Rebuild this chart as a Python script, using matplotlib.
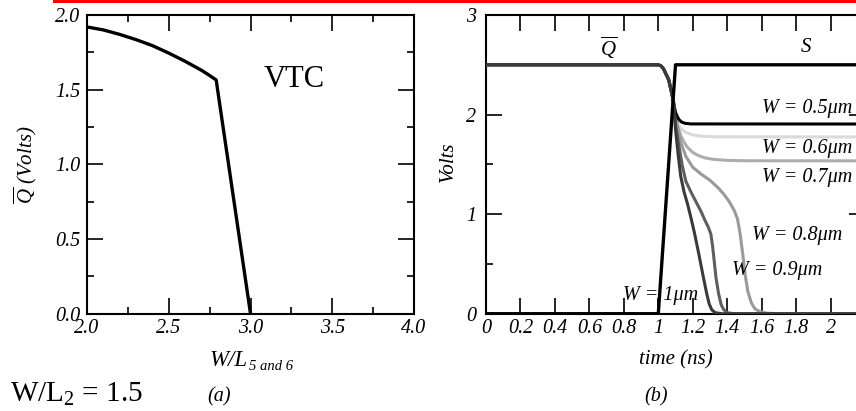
import matplotlib
matplotlib.use("Agg")
import matplotlib.pyplot as plt
from matplotlib.patches import Rectangle
from matplotlib.ticker import MultipleLocator, FixedLocator, FuncFormatter

plt.rcParams["font.family"] = ["Liberation Serif", "DejaVu Serif"]
plt.rcParams["font.style"] = "italic"
plt.rcParams["mathtext.fontset"] = "custom"
plt.rcParams["mathtext.rm"] = "Liberation Serif:style=normal"
plt.rcParams["mathtext.it"] = "Liberation Serif:style=italic"
plt.rcParams["mathtext.bf"] = "Liberation Serif:style=normal:weight=bold"

# (a) VTC: Q-bar versus W/L of transistors 5 and 6
vtc_wl = [2.0, 2.1, 2.2, 2.3, 2.4, 2.5, 2.6, 2.7, 2.75, 2.79, 3.0]
vtc_q = [1.92, 1.9, 1.87, 1.835, 1.795, 1.745, 1.69, 1.63, 1.595, 1.565, 0.0]

# (b) transient: S input and Q-bar output for several widths
t_s = [0.0, 1.0, 1.1, 2.2]
v_s = [0.0, 0.0, 2.5, 2.5]

t_w05 = [0.0, 1.0, 1.015, 1.03, 1.06, 1.08, 1.09, 1.1, 1.11, 1.12, 1.135, 1.155, 1.19, 2.2]
v_w05 = [2.5, 2.5, 2.49, 2.46, 2.35, 2.2, 2.1, 2.02, 1.98, 1.95, 1.925, 1.912, 1.906, 1.905]

t_w06 = [0.0, 1.0, 1.015, 1.03, 1.06, 1.08, 1.09, 1.1, 1.11, 1.13, 1.16, 1.2, 1.25, 1.32, 2.2]
v_w06 = [2.5, 2.5, 2.49, 2.46, 2.35, 2.2, 2.1, 2.0, 1.93, 1.86, 1.82, 1.796, 1.783, 1.777, 1.775]

t_w07 = [0.0, 1.0, 1.015, 1.03, 1.06, 1.08, 1.09, 1.1, 1.11, 1.13, 1.15, 1.17, 1.2,
         1.23, 1.27, 1.32, 1.4, 1.5, 2.2]
v_w07 = [2.5, 2.5, 2.49, 2.46, 2.35, 2.2, 2.1, 1.98, 1.9, 1.79, 1.72, 1.67, 1.62,
         1.59, 1.565, 1.55, 1.54, 1.536, 1.535]

t_w08 = [0.0, 1.0, 1.015, 1.03, 1.06, 1.08, 1.09, 1.1, 1.11, 1.13, 1.16, 1.2, 1.25,
         1.3, 1.35, 1.38, 1.41, 1.44, 1.46, 1.475, 1.49, 1.505, 1.52, 1.54, 1.56,
         1.59, 1.63, 1.7, 2.2]
v_w08 = [2.5, 2.5, 2.49, 2.46, 2.36, 2.22, 2.12, 2.0, 1.88, 1.72, 1.58, 1.47, 1.4,
         1.34, 1.26, 1.2, 1.13, 1.04, 0.95, 0.8, 0.6, 0.38, 0.22, 0.11, 0.05,
         0.02, 0.005, 0.0, 0.0]

t_w09 = [0.0, 1.0, 1.015, 1.03, 1.06, 1.08, 1.09, 1.1, 1.12, 1.14, 1.16, 1.19, 1.22,
         1.25, 1.27, 1.29, 1.305, 1.315, 1.325, 1.335, 1.35, 1.365, 1.38, 1.4,
         1.44, 2.2]
v_w09 = [2.5, 2.5, 2.49, 2.46, 2.35, 2.2, 2.1, 1.9, 1.68, 1.48, 1.33, 1.22, 1.12,
         1.02, 0.94, 0.87, 0.8, 0.68, 0.52, 0.36, 0.2, 0.09, 0.04, 0.01,
         0.0, 0.0]

t_w10 = [0.0, 1.0, 1.015, 1.03, 1.06, 1.08, 1.09, 1.1, 1.115, 1.13, 1.15, 1.17, 1.19,
         1.21, 1.235, 1.26, 1.28, 1.295, 1.31, 1.33, 1.37, 2.2]
v_w10 = [2.5, 2.5, 2.49, 2.46, 2.35, 2.2, 2.1, 1.85, 1.6, 1.38, 1.22, 1.1, 0.96,
         0.81, 0.6, 0.38, 0.21, 0.1, 0.04, 0.01, 0.0, 0.0]

width_labels = ["W = 0.5\u03bcm", "W = 0.6\u03bcm", "W = 0.7\u03bcm",
                "W = 0.8\u03bcm", "W = 0.9\u03bcm", "W = 1\u03bcm"]
label_t = [1.602, 1.602, 1.602, 1.545, 1.428, 0.795]
label_v = [2.064, 1.66, 1.37, 0.785, 0.43, 0.18]

FS = 14.5
FW, FH = 856, 411

fig = plt.figure(figsize=(8.56, 4.11), dpi=100)
fig.patch.set_facecolor("white")

# red rule across the top
fig.add_artist(Rectangle((53 / FW, 1 - 3 / FH), (FW - 53) / FW, 3 / FH,
                         transform=fig.transFigure, color="#ff0000", lw=0))


def style_axes(ax):
    for s in ax.spines.values():
        s.set_linewidth(1.5)
    ax.tick_params(which="both", direction="in", top=True, right=True,
                   labelsize=FS, width=1.2)
    ax.tick_params(which="major", length=11.5)
    ax.tick_params(which="minor", length=5)


# ---------- (a) ----------
ax1 = fig.add_axes([87 / FW, 1 - 313.7 / FH, (414 - 87) / FW, (313.7 - 15) / FH])
ax1.plot(vtc_wl, vtc_q, color="black", lw=2.4, zorder=3)
ax1.set_xlim(2.0, 4.0)
ax1.set_ylim(0.0, 2.0)
ax1.xaxis.set_major_locator(MultipleLocator(0.5))
ax1.xaxis.set_minor_locator(MultipleLocator(0.25))
ax1.yaxis.set_major_locator(MultipleLocator(0.5))
ax1.yaxis.set_minor_locator(MultipleLocator(0.25))
ax1.xaxis.set_major_formatter(FuncFormatter(lambda v, p: f"{v:.1f}"))
ax1.yaxis.set_major_formatter(FuncFormatter(lambda v, p: f"{v:.1f}"))
style_axes(ax1)
ax1.tick_params(axis="x", pad=4)
ax1.tick_params(axis="y", pad=5)
ax1.text(3.266, 1.571, "VTC", fontsize=22, style="normal",
         ha="center", va="center")
fig.text(209 / FW, 1 - 365.7 / FH, "W/L", fontsize=16.5, ha="left", va="baseline")
fig.text(249 / FW, 1 - 370 / FH, "5 and 6", fontsize=10.5, ha="left", va="baseline")
fig.text(25 / FW, 1 - 165 / FH, r"$\overline{Q}$ (Volts)", fontsize=15,
         rotation=90, ha="center", va="center")
fig.text(10 / FW, 1 - 401.7 / FH, r"W/L$_2$ = 1.5", fontsize=21, style="normal",
         ha="left", va="baseline")
fig.text(219 / FW, 1 - 397 / FH, "(a)", fontsize=14.5, ha="center", va="center")

# ---------- (b) ----------
ax2 = fig.add_axes([486 / FW, 1 - 313.7 / FH, 2.2 * 172.3 / FW, (313.7 - 15) / FH])
curves = [
    (t_w06, v_w06, "#dadada"),
    (t_w07, v_w07, "#adadad"),
    (t_w08, v_w08, "#9a9a9a"),
    (t_w05, v_w05, "#000000"),
    (t_w09, v_w09, "#5e5e5e"),
    (t_w10, v_w10, "#3a3a3a"),
]
for tt, vv, c in curves:
    ax2.plot(tt, vv, color=c, lw=2.2, zorder=3)
ax2.plot(t_s, v_s, color="black", lw=2.4, zorder=4)
ax2.set_xlim(0, 2.2)
ax2.set_ylim(0, 3)
ax2.xaxis.set_major_locator(FixedLocator([i * 0.2 for i in range(12)]))
ax2.xaxis.set_major_formatter(
    FuncFormatter(lambda v, p: "" if v > 2.05 else f"{v:g}"))
ax2.yaxis.set_major_locator(MultipleLocator(1))
ax2.yaxis.set_minor_locator(MultipleLocator(0.5))
ax2.yaxis.set_major_formatter(FuncFormatter(lambda v, p: f"{v:g}"))
style_axes(ax2)
ax2.tick_params(axis="x", pad=4)
ax2.tick_params(axis="y", pad=7)
ax2.text(0.71, 2.67, r"$\overline{Q}$", fontsize=15, ha="center", va="center")
ax2.text(1.855, 2.67, "S", fontsize=15, ha="center", va="center")
for lab, tx, vy in zip(width_labels, label_t, label_v):
    ax2.text(tx, vy, lab, fontsize=FS, ha="left", va="center", zorder=5)
fig.text(676 / FW, 1 - 360 / FH, "time (ns)", fontsize=15, ha="center", va="center")
fig.text(448 / FW, 1 - 162 / FH, "Volts", fontsize=15, rotation=90,
         ha="center", va="center")
fig.text(656 / FW, 1 - 397 / FH, "(b)", fontsize=14.5, ha="center", va="center")

fig.savefig("out.png", dpi=100, facecolor="white")
